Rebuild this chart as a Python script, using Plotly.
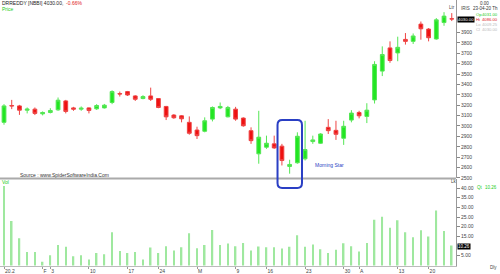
import plotly.graph_objects as go

# ---------------- data ----------------
idx = list(range(59))
opens = [3035, 3197, 3193, 3152, 3162, 3117, 3130, 3155, 3241, 3174,
         3162, 3174, 3165, 3174, 3226, 3312, 3331, 3289, 3264, 3289,
         3264, 3188, 3105, 3098, 3035, 2961, 2949, 3066, 3174, 3088,
         3162, 3076, 2955, 2732, 2796, 2828, 2806, 2611, 2646, 2684,
         2850, 2834, 2987, 2958, 2882, 3057, 3130, 3092, 3251, 3528,
         3751, 3703, 3833, 3814, 3980, 3932, 3837, 3995, 4031]
highs = [3210, 3251, 3203, 3178, 3178, 3140, 3171, 3274, 3251, 3184,
         3188, 3178, 3210, 3212, 3343, 3331, 3337, 3296, 3296, 3369,
         3267, 3193, 3114, 3105, 3092, 2993, 3083, 3188, 3226, 3193,
         3184, 3083, 2987, 3146, 2907, 2907, 2828, 2675, 2939, 3050,
         2907, 2930, 3066, 3050, 3050, 3152, 3146, 3219, 3623, 3766,
         3814, 3859, 3894, 3890, 4005, 3942, 4038, 4095, 4086]
lows = [3012, 3162, 3107, 3121, 3105, 3102, 3121, 3146, 3121, 3146,
        3146, 3121, 3155, 3168, 3210, 3283, 3289, 3241, 3257, 3241,
        3171, 3057, 3069, 3035, 2916, 2875, 2939, 3044, 3162, 3083,
        3050, 2993, 2828, 2637, 2780, 2780, 2620, 2541, 2637, 2668,
        2828, 2828, 2923, 2866, 2818, 3035, 3073, 3028, 3216, 3480,
        3608, 3623, 3783, 3789, 3830, 3814, 3830, 3964, 4009.25]
closes = [3193, 3193, 3152, 3162, 3121, 3130, 3149, 3248, 3140, 3162,
          3171, 3149, 3197, 3200, 3331, 3308, 3298, 3257, 3283, 3257,
          3178, 3088, 3079, 3069, 2930, 2907, 3050, 3178, 3188, 3178,
          3066, 3002, 2859, 2892, 2834, 2789, 2668, 2630, 2901, 2773,
          2866, 2923, 2955, 2920, 2997, 3124, 3098, 3152, 3592, 3687,
          3630, 3757, 3814, 3866, 3935, 3849, 4021, 4057, 4030]
volumes = [41, 23, 14, 6.9, 6.9, 1.9, 5.2, 10.5, 9.6, 4.8,
           5.3, 3.1, 6.4, 5.8, 17.1, 7.4, 6.4, 7.0, 3.1, 9.3,
           6.4, 9.9, 7.7, 9.4, 16.6, 8.9, 10.6, 18.3, 10.5, 11.3,
           9.9, 11.6, 7.7, 9.8, 9.4, 9.4, 8.8, 9.6, 15.6, 9.6,
           10.8, 8.4, 6.4, 8.1, 11.5, 9.9, 7.2, 11.6, 23.6, 25.2,
           19.5, 23.3, 17.1, 14.6, 18.2, 14.9, 28.4, 17.8, 10.26]
x_tick_pos = [0, 5, 6, 11, 16, 20, 25, 30, 34, 39, 44, 46, 51, 55]
x_tick_text = ["20.2", "F", "3", "10", "17", "24", "M", "9", "16", "23", "30", "A", "13", "20"]
price_ticks = list(range(2500, 4000, 100))
vol_ticks = [5, 15, 20, 25, 30, 35, 40]

# ---------------- figure ----------------
W, H = 500, 274
ML, MR, MT, MB = 0, 44, 0, 6
PW, PH = W - ML - MR, H - MT - MB


def px(xp, yp):
    return (xp - ML) / PW, 1 - (yp - MT) / PH


FONT = "Liberation Sans, Arial, sans-serif"
fig = go.Figure()
fig.add_trace(go.Candlestick(
    x=idx, open=opens, high=highs, low=lows, close=closes,
    increasing=dict(fillcolor="#22e622", line=dict(color="#55e655", width=1)),
    decreasing=dict(fillcolor="#ee1111", line=dict(color="#ee4444", width=1)),
    whiskerwidth=0, xaxis="x", yaxis="y", showlegend=False, hoverinfo="skip"))
fig.add_trace(go.Bar(
    x=idx, y=volumes, width=0.2, marker=dict(color="#9fe89f", line=dict(width=0)),
    xaxis="x2", yaxis="y2", showlegend=False, hoverinfo="skip"))

xr = [-0.52, 58.55]
tickfont = dict(family=FONT, size=5, color="#444")
fig.update_layout(
    width=W, height=H, margin=dict(l=ML, r=MR, t=MT, b=MB),
    paper_bgcolor="white", plot_bgcolor="white", showlegend=False,
    font=dict(family=FONT, size=5, color="#333"),
    xaxis=dict(domain=[0, 1], range=xr, anchor="y", showticklabels=False, showgrid=False,
               zeroline=False, showline=False, rangeslider=dict(visible=False), fixedrange=True),
    yaxis=dict(domain=[0.331, 1], range=[2500, 4212], side="right", anchor="x",
               tickvals=price_ticks, ticks="outside", ticklen=3, tickcolor="#888",
               tickfont=tickfont, showline=True, linecolor="#999", linewidth=1,
               showgrid=False, zeroline=False),
    xaxis2=dict(domain=[0, 1], range=xr, anchor="y2", tickvals=x_tick_pos, ticktext=x_tick_text,
                tickangle=0, ticks="outside", ticklen=2, tickcolor="#999", tickfont=tickfont,
                ticklabelposition="outside right", ticklabelstandoff=0,
                showline=True, linecolor="#bbb", showgrid=False, zeroline=False),
    yaxis2=dict(domain=[0, 0.328], range=[-0.3, 44.8], side="right", anchor="x2",
                tickvals=vol_ticks, tickformat=".2f", ticks="outside", ticklen=3, tickcolor="#888",
                tickfont=tickfont, showline=True, linecolor="#999", linewidth=1,
                showgrid=False, zeroline=False),
)

# separator between panels
sx0, sy = px(0, 179.8)
fig.add_shape(type="line", xref="paper", yref="paper", x0=0, x1=1, y0=sy, y1=sy,
              line=dict(color="#aaaaaa", width=2))

# Morning Star box (rounded)
bx0, bx1 = 35.43, 38.6
_, by1 = px(0, 121)
_, by0 = px(0, 189.5)
rx, ry = 0.6, 5 / PH
path = (f"M {bx0+rx},{by1} L {bx1-rx},{by1} Q {bx1},{by1} {bx1},{by1-ry} "
        f"L {bx1},{by0+ry} Q {bx1},{by0} {bx1-rx},{by0} L {bx0+rx},{by0} "
        f"Q {bx0},{by0} {bx0},{by0+ry} L {bx0},{by1-ry} Q {bx0},{by1} {bx0+rx},{by1} Z")
fig.add_shape(type="path", xref="x", yref="paper", path=path,
              line=dict(color="#2a3fc4", width=2))


def note(text, xp, yp, color="#333", size=5, bg=None, anchor="left"):
    x, y = px(xp, yp)
    d = dict(text=text, x=x, y=y, xref="paper", yref="paper", xanchor=anchor,
             yanchor="middle", showarrow=False, font=dict(family=FONT, size=size, color=color))
    if bg:
        d.update(bgcolor=bg, borderpad=0)
    fig.add_annotation(**d)


note("DRREDDY [NBBI] 4030.00,  <span style='color:#e02020'>-0.66%</span>", 0, 3.5, color="#222")
note("Price", 0, 9.5, color="#22cc22")
note("Source : www.SpiderSoftwareIndia.Com", 18, 176, color="#333")
note("Vol", 0, 183.5, color="#22cc22")
note("Morning Star", 313, 166, color="#2a3fc4")
note("Ltr", 447, 8, color="#444", size=4.5)
note("IRIS", 459, 9, color="#444", size=4.5)
note("0.00", 491, 3.3, color="#333", size=4.5, anchor="right")
note("23-04-20 Th", 499.5, 9, color="#333", size=4.5, anchor="right")
LS = 4.2
note("Op", 474, 15, color="#22cc22", size=LS)
note("4031.00", 500, 15, color="#22cc22", size=LS, anchor="right")
note("Hi", 474, 20, color="#e02020", size=LS)
note("4086.00", 500, 20, color="#e02020", size=LS, anchor="right")
note("Lo", 474, 25, color="#bbbbbb", size=LS)
note("4009.25", 500, 25, color="#bbbbbb", size=LS, anchor="right")
note("Cl", 474, 30, color="#bbbbbb", size=LS)
note("4030.00", 500, 30, color="#bbbbbb", size=LS, anchor="right")
note("Lk", 449, 183, color="#444", size=4.5)
note("Qt", 475, 189.3, color="#22cc22", size=4.5)
note("10.26", 499, 189.3, color="#22cc22", size=4.5, anchor="right")
note("Dly", 499, 270, color="#444", size=4.5, anchor="right")
note("4030.00", 457, 19.5, color="white", bg="black", size=4.3)
note("10.26", 457, 248, color="white", bg="black", size=4.5)

fig.write_html("out.html")
